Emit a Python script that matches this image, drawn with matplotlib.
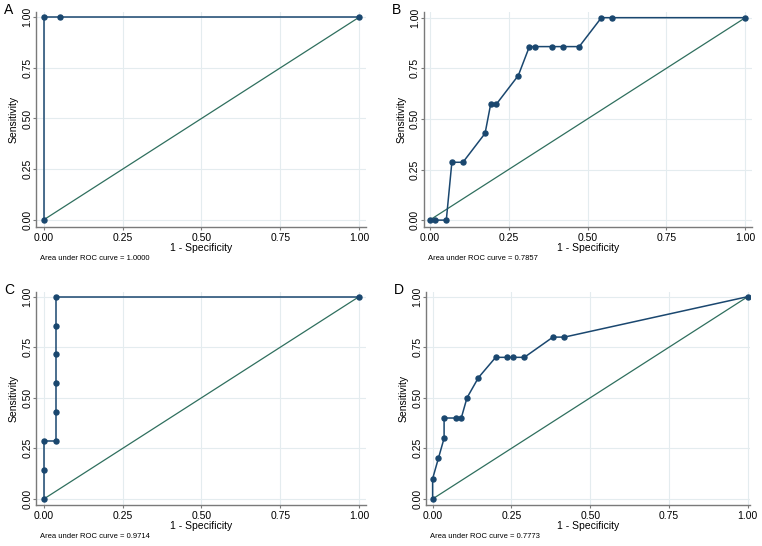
import numpy as np
from matplotlib import pyplot as plt

plt.rcParams['font.family'] = ['Liberation Sans', 'DejaVu Sans']

# ROC points (1 - specificity, sensitivity)
a_fpr = [0.0, 0.0, 0.0526, 1.0]
a_tpr = [0.0, 1.0, 1.0, 1.0]

b_fpr = [0.0, 0.0175, 0.0526, 0.0702, 0.1053, 0.1754, 0.1930, 0.2105, 0.2807,
         0.3158, 0.3333, 0.3860, 0.4211, 0.4737, 0.5439, 0.5789, 1.0]
b_tpr = [0.0, 0.0, 0.0, 0.2857, 0.2857, 0.4286, 0.5714, 0.5714, 0.7143,
         0.8571, 0.8571, 0.8571, 0.8571, 0.8571, 1.0, 1.0, 1.0]

c_fpr = [0.0, 0.0, 0.0, 0.04, 0.04, 0.04, 0.04, 0.04, 0.04, 1.0]
c_tpr = [0.0, 0.1429, 0.2857, 0.2857, 0.4286, 0.5714, 0.7143, 0.8571, 1.0, 1.0]

d_fpr = [0.0, 0.0, 0.0182, 0.0364, 0.0364, 0.0727, 0.0909, 0.1091, 0.1455,
         0.2, 0.2364, 0.2545, 0.2909, 0.3818, 0.4182, 1.0]
d_tpr = [0.0, 0.1, 0.2, 0.3, 0.4, 0.4, 0.4, 0.5, 0.6,
         0.7, 0.7, 0.7, 0.7, 0.8, 0.8, 1.0]

letters = ['A', 'B', 'C', 'D']
aucs = ['1.0000', '0.7857', '0.9714', '0.7773']

navy = '#1a476f'
green = '#2f6f5e'
grid_col = '#e4ecef'
spine_col = '#7a7a7a'

W, H = 762, 546
fig = plt.figure(figsize=(W / 100, H / 100), dpi=100)

# axes boxes in pixels: left, top, right, bottom ; and data limits
boxes = [(36, 12, 366, 227), (423.7, 12, 752, 227),
         (36, 292, 366, 505), (426, 292, 750, 505)]
xlims = [(-0.025, 1.022), (-0.019, 1.021), (-0.025, 1.022), (-0.021, 1.007)]
ylims = [(-0.036, 1.026), (-0.034, 1.028), (-0.030, 1.023), (-0.030, 1.023)]
curves = [(a_fpr, a_tpr), (b_fpr, b_tpr), (c_fpr, c_tpr), (d_fpr, d_tpr)]

ticks = [0, 0.25, 0.5, 0.75, 1.0]
tick_labels = ['0.00', '0.25', '0.50', '0.75', '1.00']

for i in range(4):
    l, t, r, b = boxes[i]
    ax = fig.add_axes([l / W, (H - b) / H, (r - l) / W, (b - t) / H])
    fpr, tpr = curves[i]
    ax.plot([0, 1], [0, 1], color=green, lw=0.9, zorder=2)
    ax.plot(fpr, tpr, color=navy, lw=1.1, marker='o', markersize=3.6, zorder=3)
    ax.set_xlim(*xlims[i])
    ax.set_ylim(*ylims[i])
    ax.set_xticks(ticks)
    ax.set_xticklabels(tick_labels, fontsize=7.5)
    ax.set_yticks(ticks)
    ax.set_yticklabels(tick_labels, fontsize=7.5, rotation=90, va='center')
    ax.grid(True, color=grid_col, lw=0.8, zorder=0)
    ax.set_axisbelow(True)
    for s in ['top', 'right']:
        ax.spines[s].set_visible(False)
    for s in ['left', 'bottom']:
        ax.spines[s].set_color(spine_col)
        ax.spines[s].set_linewidth(1.0)
    ax.tick_params(length=2.2, width=0.8, color=spine_col, pad=2)
    ax.tick_params(axis='y', pad=0.5)
    ax.set_xlabel('1 - Specificity', fontsize=7.5, labelpad=0)
    ax.set_ylabel('Sensitivity', fontsize=7.5, labelpad=2.5)
    # letter and AUC note
    fig.text((l - 32) / W, 1 - (t - 9) / H, letters[i], fontsize=10,
             va='top', ha='left')
    fig.text((l + 4) / W, 1 - (b + 31) / H,
             'Area under ROC curve = ' + aucs[i], fontsize=5.5,
             va='center', ha='left')

fig.savefig('out.png', dpi=100)
